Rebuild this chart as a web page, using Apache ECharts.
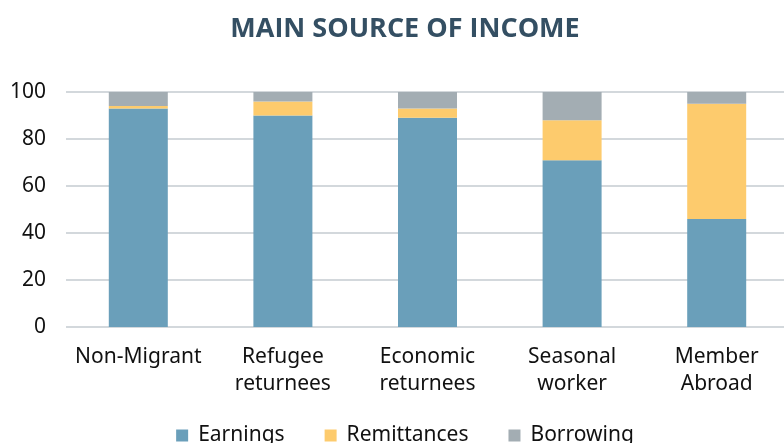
<!DOCTYPE html>
<html><head><meta charset="utf-8">
<script src="https://cdn.jsdelivr.net/npm/echarts@6/dist/echarts.min.js"></script>
<style>html,body{margin:0;padding:0;background:#fff;overflow:hidden}#c{width:810px;height:443px}</style>
</head><body><div id="c"></div>
<script>
var categories = ['Non-Migrant', 'Refugee\nreturnees', 'Economic\nreturnees', 'Seasonal\nworker', 'Member\nAbroad'];
var earnings = [93, 90, 89, 71, 46];
var remittances = [1, 6, 4, 17, 49];
var borrowing = [6, 4, 7, 12, 5];
var yTicks = [0, 20, 40, 60, 80, 100];

var chart = echarts.init(document.getElementById('c'));
var font = 'Noto Sans, sans-serif';
function bar(name, data, color) {
  return {name: name, type: 'bar', stack: 's', data: data, barWidth: 59,
    itemStyle: {color: color}, emphasis: {disabled: true}};
}
chart.setOption({
  animation: false,
  title: {text: 'MAIN SOURCE OF INCOME', left: 'center', top: 11,
    textStyle: {fontFamily: 'Open Sans, sans-serif', fontWeight: 'bold', fontSize: 27, color: '#344f63'}},
  legend: {top: 420, left: 'center', itemWidth: 12, itemHeight: 12, itemGap: 40, icon: 'rect',
    textStyle: {fontFamily: font, fontSize: 21, color: '#111', padding: [0, 0, 0, 5]}},
  grid: {left: 66, top: 92, width: 723, height: 235},
  xAxis: {type: 'category', data: categories,
    axisLine: {show: false}, axisTick: {show: false},
    axisLabel: {interval: 0, fontFamily: font, fontSize: 21, color: '#111', lineHeight: 27, margin: 17}},
  yAxis: {type: 'value', min: yTicks[0], max: yTicks[yTicks.length-1], interval: 20,
    axisLabel: {fontFamily: font, fontSize: 21, color: '#111', margin: 20},
    splitLine: {lineStyle: {color: '#d3d8dc', width: 2}}},
  series: [
    bar('Earnings', earnings, '#6a9fba'),
    bar('Remittances', remittances, '#fdcb6d'),
    bar('Borrowing', borrowing, '#a3adb3')
  ]
});
</script></body></html>
